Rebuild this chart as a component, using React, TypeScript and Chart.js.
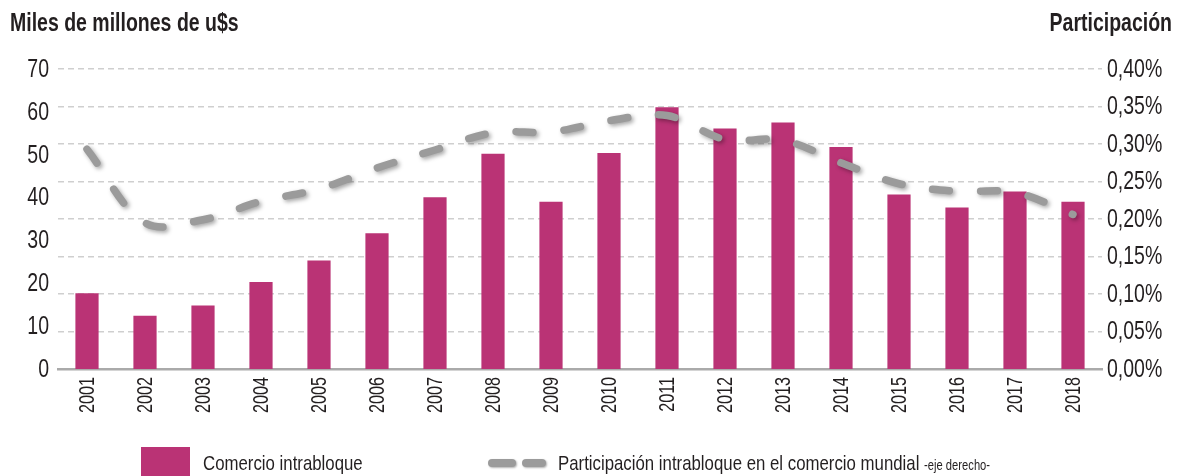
import React, { useEffect, useRef } from "react";
import { Chart, registerables } from "chart.js";

Chart.register(...registerables);

const years = ["2001", "2002", "2003", "2004", "2005", "2006", "2007", "2008", "2009", "2010", "2011", "2012", "2013", "2014", "2015", "2016", "2017", "2018"];
const comercio = [17.7, 12.4, 14.8, 20.3, 25.3, 31.7, 40.1, 50.2, 39.0, 50.4, 61.1, 56.1, 57.5, 51.8, 40.7, 37.7, 41.4, 39.0];
const participacion = [0.293, 0.195, 0.199, 0.2235, 0.24, 0.268, 0.292, 0.315, 0.316, 0.331, 0.338, 0.306, 0.305, 0.275, 0.247, 0.237, 0.2355, 0.206];
const leftTitle = "Miles de millones de u$s";
const rightTitle = "Participación";
const barLabel = "Comercio intrabloque";
const lineLabel = "Participación intrabloque en el comercio mundial";
const lineNote = "-eje derecho-";

const FONT = '"Liberation Sans", Arial, sans-serif';
const TEXT = "#231f20";
const BAR = "#BA3375";
const LINE = "#9b9b9b";

const fmtPct = (v: number) => v.toFixed(2).replace(".", ",") + "%";

const shadowPlugin = {
  id: "lineShadow",
  beforeDatasetDraw(chart: any, args: any) {
    if (args.index === 1) {
      const ctx = chart.ctx;
      ctx.save();
      ctx.shadowColor = "rgba(0,0,0,0.35)";
      ctx.shadowBlur = 4;
      ctx.shadowOffsetX = 2;
      ctx.shadowOffsetY = 2;
    }
  },
  afterDatasetDraw(chart: any, args: any) {
    if (args.index === 1) chart.ctx.restore();
  },
};

// Draws the axis tick labels in a condensed form (horizontally scaled text).
const condensedTicks = {
  id: "condensedTicks",
  afterDraw(chart: any) {
    const ctx = chart.ctx;
    const area = chart.chartArea;
    const { x, y, y1 } = chart.scales;
    ctx.save();
    ctx.fillStyle = TEXT;
    ctx.textBaseline = "middle";
    // left axis
    ctx.font = `25px ${FONT}`;
    ctx.textAlign = "right";
    y.ticks.forEach((t: any) => {
      ctx.save();
      ctx.translate(area.left - 9, y.getPixelForValue(t.value) + 1);
      ctx.scale(0.78, 1);
      ctx.fillText(String(t.value), 0, 0);
      ctx.restore();
    });
    // right axis
    ctx.textAlign = "left";
    y1.ticks.forEach((t: any) => {
      ctx.save();
      ctx.translate(area.right + 5, y1.getPixelForValue(t.value) + 1);
      ctx.scale(0.78, 1);
      ctx.fillText(fmtPct(t.value), 0, 0);
      ctx.restore();
    });
    // x axis (rotated)
    ctx.font = `22.5px ${FONT}`;
    ctx.textAlign = "right";
    x.ticks.forEach((t: any, i: number) => {
      ctx.save();
      ctx.translate(x.getPixelForTick(i) + 1, area.bottom + 8);
      ctx.rotate(-Math.PI / 2);
      ctx.scale(0.72, 1);
      ctx.fillText(chart.data.labels[t.value], 0, 0);
      ctx.restore();
    });
    ctx.restore();
  },
};

export default function App() {
  const ref = useRef<HTMLCanvasElement | null>(null);
  useEffect(() => {
    document.body.style.margin = "0";
    const chart = new Chart(ref.current as HTMLCanvasElement, {
      type: "bar",
      data: {
        labels: years,
        datasets: [
          {
            type: "bar",
            label: barLabel,
            data: comercio,
            backgroundColor: BAR,
            barPercentage: 0.4,
            categoryPercentage: 1,
            yAxisID: "y",
            order: 1,
          },
          {
            type: "line",
            label: lineLabel,
            data: participacion,
            borderColor: LINE,
            borderWidth: 7.5,
            borderDash: [17, 31],
            borderCapStyle: "round",
            pointRadius: 0,
            tension: 0.35,
            fill: false,
            yAxisID: "y1",
            order: 0,
          } as any,
        ],
      },
      options: {
        responsive: false,
        animation: false,
        layout: { padding: { top: 69, left: 0, right: 0, bottom: 0 } },
        plugins: { legend: { display: false }, tooltip: { enabled: false } },
        scales: {
          x: {
            grid: { display: false, drawTicks: false },
            border: { display: true, color: "#aaaaaa", width: 2.5 },
            ticks: { display: false },
            afterFit(scale: any) {
              scale.height = 107;
            },
          },
          y: {
            position: "left",
            min: 0,
            max: 70,
            grid: { display: false, drawTicks: false },
            border: { display: false },
            ticks: { stepSize: 10, display: false },
            afterFit(scale: any) {
              scale.width = 58;
            },
          },
          y1: {
            position: "right",
            min: 0,
            max: 0.4,
            grid: { display: true, drawTicks: false, color: "#cfcfcf", lineWidth: 1.5 },
            border: { display: false, dash: [6, 4] },
            ticks: { stepSize: 0.05, display: false },
            afterFit(scale: any) {
              scale.width = 76;
            },
          },
        },
      },
      plugins: [shadowPlugin, condensedTicks],
    } as any);
    return () => chart.destroy();
  }, []);

  const text: React.CSSProperties = {
    position: "absolute",
    fontFamily: FONT,
    color: TEXT,
    whiteSpace: "nowrap",
    transformOrigin: "left top",
    transform: "scaleX(0.8)",
  };
  const dash: React.CSSProperties = {
    position: "absolute",
    height: 8,
    borderRadius: 4,
    background: LINE,
    boxShadow: "1px 1px 2px rgba(0,0,0,0.3)",
    top: 459,
  };
  return (
    <div style={{ position: "absolute", left: 0, top: 0, width: 1178, height: 476, overflow: "hidden", background: "#fff" }}>
      <canvas ref={ref} width={1178} height={476} style={{ position: "absolute", left: 0, top: 0 }} />
      <div style={{ ...text, left: 10, top: 8, fontSize: 25, fontWeight: "bold", transform: "scaleX(0.78)" }}>{leftTitle}</div>
      <div style={{ ...text, right: 6, top: 8, fontSize: 25, fontWeight: "bold", transformOrigin: "right top", transform: "scaleX(0.78)" }}>{rightTitle}</div>
      <div style={{ position: "absolute", left: 141, top: 447, width: 49, height: 32, background: BAR }} />
      <div style={{ ...text, left: 203, top: 451, fontSize: 21 }}>{barLabel}</div>
      <div style={{ ...dash, left: 488, width: 28 }} />
      <div style={{ ...dash, left: 522, width: 24 }} />
      <div style={{ ...text, left: 558, top: 451, fontSize: 21 }}>
        {lineLabel} <span style={{ fontSize: 14 }}>{lineNote}</span>
      </div>
    </div>
  );
}
